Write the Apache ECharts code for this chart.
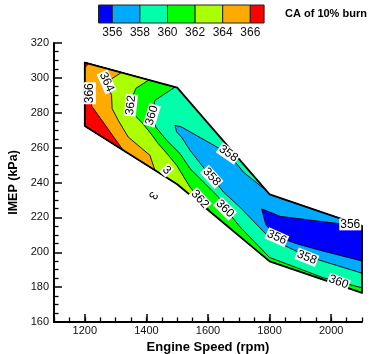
<!DOCTYPE html>
<html><head><meta charset="utf-8">
<script src="https://cdn.jsdelivr.net/npm/echarts@6/dist/echarts.min.js"></script>
<style>html,body{margin:0;padding:0;background:#fff}#c{width:371px;height:354px}</style>
</head><body><div id="c"></div>
<script>
// Contour levels and band colours (colour bar)
const levels = [356, 358, 360, 362, 364, 366];
const bandColors = ['#0000ff', '#00aaff', '#00ffaa', '#00ff00', '#aaff00', '#ffaa00', '#ff0000'];
const xMajorTicks = [1200, 1400, 1600, 1800, 2000];

// Measured domain (rpm, IMEP kPa)
const domain = [[1200,308.8],[1500,294.4],[1800,233.2],[2100,215.1],[2100,176.7],[1800,194.8],[1500,239],[1200,272.4]];

// Regions: superlevel sets (>= level) and sublevel sets (<= level)
const ge360 = [[1200,308.8],[1492.7,294.7],[1427.6,287.1],[1417.9,278.5],[1430.9,271.7],[1465.7,264.2],[1509,256.6],[1541.5,248],[1590.2,239.4],[1633.5,231.7],[1655.3,225.2],[1704.1,214.5],[1800,197],[1974,185.4],[2100,179.6],[2100,176.7],[1800,194.8],[1500,239],[1200,272.4]];
const ge362 = [[1200,308.8],[1408,298.8],[1365.9,294],[1349.6,287.1],[1352.8,280.3],[1384.4,274.5],[1411.4,268.8],[1437.4,262.5],[1463.4,257.3],[1498.2,249.9],[1541.5,237.4],[1574,230.4],[1613,222.4],[1500,239],[1200,272.4]];
const ge364 = [[1200,308.8],[1319.3,303.1],[1270.6,297.6],[1286.8,290],[1288.8,282.4],[1308.3,275.7],[1340.8,266.1],[1411.4,255.6],[1427.6,247.1],[1200,272.4]];
const ge366a = [[1200,297],[1216.3,291.2],[1222.8,283.7],[1324.6,258.5],[1200,272.4]];
const ge366b = [[1200,308.8],[1213,308.2],[1200,306]];
const le358 = [[1492.7,272.8],[1514.5,271.8],[1628.3,260.4],[1666,256.6],[1714.8,246],[1790,235.2],[1800,233.2],[2100,215.1],[2100,188],[1921,197.7],[1834.1,205.1],[1785.4,210.9],[1704.1,225.8],[1649.8,234.6],[1612,243],[1579.5,249.9],[1541.5,258.5],[1514.5,265.9],[1498.2,269]];
const le356 = [[1774,224.9],[1834.1,220.6],[1974,217.5],[2045.5,216],[2100,212.6],[2100,195],[1964.2,201.1],[1892.7,204.6],[1824.4,208.9],[1788.6,215.5]];

// Contour labels: rpm, IMEP, text
const contourLabels = [
  [1216.3,291.2,'366'],[1270.6,297.6,'364'],[1349.6,284.3,'362'],[1417.9,278.5,'360'],
  [1666,256.6,'358'],[1612,243.2,'358'],[1574,230.4,'362'],[1655.3,225,'360'],
  [1823.4,208.6,'356'],[1921,197.1,'358'],[2023.7,182.9,'360'],[2061.8,216,'356'],
  [1465.7,247,'3'],[1421,232.7,'3']
];
const labelAngles = [90,-66,84,73,-35,-48,-48,-45,-24,-22,-21,0,-45,-120];
const labelBoxed = [1,1,1,1,1,1,1,1,1,1,1,1,1,0];

const regions = [
  {pts: domain, color: bandColors[2], lw: 0},
  {pts: ge360, color: bandColors[3], lw: 0.9},
  {pts: ge362, color: bandColors[4], lw: 0.9},
  {pts: ge364, color: bandColors[5], lw: 0.9},
  {pts: ge366a, color: bandColors[6], lw: 0.9},
  {pts: ge366b, color: bandColors[6], lw: 0.9},
  {pts: le358, color: bandColors[1], lw: 0.9},
  {pts: le356, color: bandColors[0], lw: 0.9},
  {pts: domain, color: 'none', lw: 1.8}
];

const FONT = '"Liberation Sans", Arial, Helvetica, sans-serif';
const chart = echarts.init(document.getElementById('c'), null, {renderer: 'canvas'});

// colour bar graphics
const cbX0 = 98.5, cbW = 27.6, cbY = 5, cbH = 18;
const cbElems = [];
let cx = cbX0;
bandColors.forEach((c, i) => {
  const w = (i === 0 || i === bandColors.length - 1) ? cbW / 2 : cbW;
  cbElems.push({type: 'rect', shape: {x: cx, y: cbY, width: w, height: cbH}, style: {fill: c, stroke: '#222', lineWidth: 1}});
  cx += w;
});
levels.forEach((lv, i) => {
  cbElems.push({type: 'text', x: cbX0 + cbW / 2 + i * cbW, y: 33, style: {text: String(lv), font: '12px ' + FONT, fill: '#111', align: 'center', verticalAlign: 'middle'}});
});
cbElems.push({type: 'text', x: 285, y: 14, style: {text: 'CA of 10% burn', font: 'bold 11px ' + FONT, fill: '#000', align: 'left', verticalAlign: 'middle'}});

const option = {
  animation: false,
  backgroundColor: '#fff',
  grid: {left: 54, right: 9, top: 43, bottom: 32, containLabel: false, outerBoundsMode: 'none'},
  xAxis: [{
    type: 'value', min: 1100, max: 2100, interval: 50,
    name: 'Engine Speed (rpm)', nameLocation: 'middle', nameGap: 15,
    nameTextStyle: {fontFamily: FONT, fontWeight: 'bold', fontSize: 13, color: '#000'},
    axisLine: {show: true, lineStyle: {color: '#000', width: 2}},
    axisTick: {show: true, inside: true, length: 4.5, lineStyle: {color: '#000', width: 1.3}},
    axisLabel: {show: true, margin: 3, fontFamily: FONT, fontSize: 11, color: '#111',
      formatter: v => (xMajorTicks.indexOf(v) >= 0 ? String(v) : '')},
    splitLine: {show: false}
  }, {
    type: 'value', min: 1100, max: 2100, position: 'bottom',
    axisLine: {show: false},
    axisTick: {show: true, inside: true, length: 8, customValues: xMajorTicks, lineStyle: {color: '#000', width: 1.5}},
    axisLabel: {show: false},
    splitLine: {show: false}
  }],
  yAxis: {
    type: 'value', min: 160, max: 320, interval: 20,
    name: 'IMEP (kPa)', nameLocation: 'middle', nameGap: 29,
    nameTextStyle: {fontFamily: FONT, fontWeight: 'bold', fontSize: 12.5, color: '#000'},
    axisLine: {show: true, lineStyle: {color: '#000', width: 2}},
    axisTick: {show: true, inside: true, length: 8, lineStyle: {color: '#000', width: 1.5}},
    minorTick: {show: true, splitNumber: 4, length: 4.5, lineStyle: {color: '#000', width: 1.3}},
    axisLabel: {margin: 5, fontFamily: FONT, fontSize: 11, color: '#111'},
    splitLine: {show: false}
  },
  graphic: cbElems,
  series: [{
    type: 'custom',
    coordinateSystem: 'cartesian2d',
    xAxisIndex: 0, yAxisIndex: 0,
    clip: false,
    data: regions.map((r, i) => [r.pts[0][0], r.pts[0][1], i]),
    renderItem: (params, api) => {
      const r = regions[params.dataIndex];
      const pts = r.pts.map(p => api.coord(p));
      return {type: 'polygon', shape: {points: pts},
        style: {fill: r.color, stroke: r.lw > 0 ? '#000' : 'none', lineWidth: r.lw, lineJoin: 'round'}};
    }
  }, {
    type: 'custom',
    coordinateSystem: 'cartesian2d',
    clip: false,
    z: 5,
    data: contourLabels.map(l => [l[0], l[1]]),
    renderItem: (params, api) => {
      const i = params.dataIndex;
      const L = contourLabels[i];
      const p = api.coord([L[0], L[1]]);
      const st = {text: L[2], font: '12px ' + FONT, fill: '#000', align: 'center', verticalAlign: 'middle'};
      if (labelBoxed[i]) { st.backgroundColor = '#fff'; st.padding = [0, 1, 0, 1]; }
      return {type: 'text', x: p[0], y: p[1], rotation: labelAngles[i] * Math.PI / 180, style: st};
    }
  }]
};
chart.setOption(option);
</script></body></html>
